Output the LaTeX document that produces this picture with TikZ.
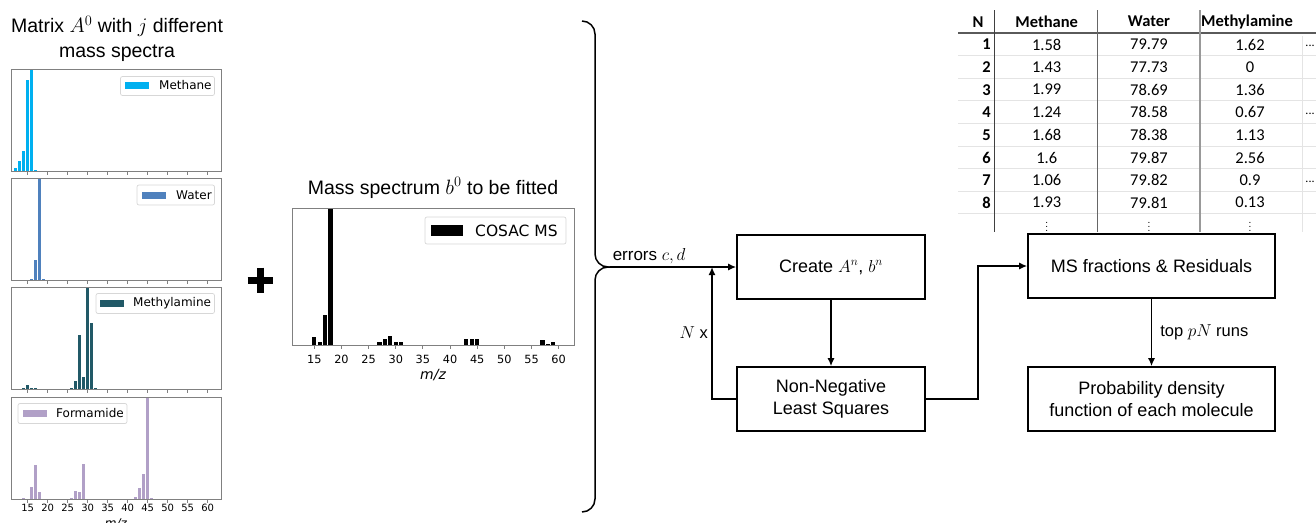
\documentclass[tikz,border=0pt]{standalone}
\usepackage{fontspec}
\setmainfont{Liberation Sans}
\newfontfamily\plotfont{DejaVu Sans}
\newfontfamily\tablefont{Carlito}
\usetikzlibrary{arrows.meta,positioning}

\definecolor{methanecol}{RGB}{0,176,240}
\definecolor{watercol}{RGB}{79,129,189}
\definecolor{aminecol}{RGB}{33,89,103}
\definecolor{formcol}{RGB}{177,160,199}
\definecolor{framegray}{RGB}{128,128,128}
\definecolor{legendgray}{RGB}{215,215,215}
\definecolor{rulegray}{RGB}{228,228,228}
\definecolor{headgray}{RGB}{90,90,90}

\tikzset{
  axisframe/.style={draw=framegray,line width=0.9pt},
  legendbox/.style={draw=legendgray,fill=white,rounded corners=2pt,line width=0.7pt},
  legendtext/.style={anchor=west,inner sep=0pt,font=\plotfont\fontsize{12}{14}\selectfont},
  ticklabel/.style={font=\plotfont\fontsize{10}{12}\selectfont},
  stepbox/.style={draw,line width=1.6pt,minimum width=188pt,minimum height=64pt,
    align=center,font=\fontsize{18}{22}\selectfont},
  link/.style={line width=1.5pt,-{Latex[length=8pt,width=7pt]}},
  cell/.style={font=\tablefont\fontsize{16.5}{19}\selectfont,inner sep=0pt},
}

% one small spectrum of the matrix A^0: top edge, colour, m/height pairs
\newcommand{\leftpanel}[3]{%
  \foreach \m/\h in {#3}
    \fill[#2] ({27.7+(\m-15)*4-1.6},{#1+102}) rectangle ++(3.2,{-\h*102});
  \draw[axisframe] (11,#1) rectangle (221,{#1+102});
  \foreach \t in {15,20,...,60}
    \draw[axisframe] ({27.7+(\t-15)*4},{#1+102}) -- ++(0,3.5);
}

\begin{document}
\begin{tikzpicture}[x=1pt,y=-1pt]
\useasboundingbox (0,0) rectangle (1316,522);

% reference spectra
\node[align=center,font=\fontsize{19.5}{25}\selectfont] (mattitle) at (117,39)
  {Matrix $A^0$ with $j$ different\\mass spectra};
\leftpanel{69}{methanecol}{12/0.03,13/0.1,14/0.2,15/0.89,16/1.0,17/0.01}
\leftpanel{178}{watercol}{16/0.01,17/0.2,18/1.0,19/0.01}
\leftpanel{287}{aminecol}{14/0.005,15/0.04,16/0.008,17/0.008,26/0.008,27/0.08,28/0.53,29/0.12,30/1.0,31/0.65,32/0.008}
\leftpanel{397}{formcol}{14/0.005,16/0.12,17/0.33,18/0.07,26/0.01,27/0.075,28/0.065,29/0.34,42/0.015,43/0.11,44/0.25,45/1.0,46/0.01}
\draw[legendbox] (120.5,76.5) rectangle (214.5,95.5);
\fill[methanecol] (125,82) rectangle (149,89);
\node[legendtext] (lgmethane) at (159,85.5) {Methane};
\draw[legendbox] (137,185) rectangle (214.5,205);
\fill[watercol] (142,191.5) rectangle (166,198.5);
\node[legendtext] (lgwater) at (176,195) {Water};
\draw[legendbox] (96,293.5) rectangle (214.5,313.5);
\fill[aminecol] (100,300) rectangle (124,307);
\node[legendtext] (lgamine) at (133,303.5) {Methylamine};
\draw[legendbox] (18,403.5) rectangle (127,423.5);
\fill[formcol] (23,410) rectangle (47,417);
\node[legendtext] (lgform) at (56,413.5) {Formamide};
\foreach \t in {15,20,...,60}
  \node[ticklabel] (lt\t) at ({27.7+(\t-15)*4},508) {\t};
\node[font=\plotfont\itshape\fontsize{12}{14}\selectfont] (lmz) at (116,524) {m/z};

% plus
\draw[line width=7pt] (247.5,280) -- (272.5,280) (260,267.5) -- (260,292.5);

% measured spectrum
\node[font=\fontsize{19.5}{23}\selectfont] (spectitle) at (433,188) {Mass spectrum $b^0$ to be fitted};
\foreach \m/\h in {13/0.005,14/0.005,15/0.06,16/0.025,17/0.225,18/1.0,19/0.005,21/0.005,23/0.005,
    26/0.005,27/0.027,28/0.046,29/0.07,30/0.025,31/0.03,33/0.005,34/0.005,38/0.005,39/0.005,
    41/0.005,43/0.046,44/0.046,45/0.046,49/0.005,57/0.04,58/0.01,59/0.027,61/0.005}
  \fill ({314.3+(\m-15)*5.43-2.15},345.7) rectangle ++(4.3,{-\h*137.4});
\draw[axisframe] (292.7,208.3) rectangle (574,345.7);
\foreach \t in {15,20,...,60}{
  \draw[axisframe] ({314.3+(\t-15)*5.43},345.7) -- ++(0,3.5);
  \node[ticklabel,font=\plotfont\fontsize{11.3}{13}\selectfont] (mt\t) at ({314.3+(\t-15)*5.43},359) {\t};
}
\node[font=\plotfont\itshape\fontsize{14}{16}\selectfont] (mmz) at (433,375) {m/z};
\draw[legendbox] (425,217) rectangle (566,244);
\fill (431,224.5) rectangle (463,235.5);
\node[legendtext,font=\plotfont\fontsize{15.5}{18}\selectfont] (lgcosac) at (475,230.5) {COSAC MS};

% brace
\coordinate (tip) at (610,267);
\draw[line width=1.5pt,rounded corners=13pt] (582,21) -| (595,267) -- (tip);
\draw[line width=1.5pt,rounded corners=13pt] (582,512) -| (595,267) -- (tip);

% flow chart
\node[stepbox] (create) at (831,267) {Create $A^n$, $b^n$};
\node[stepbox] (nnls) at (831,399) {Non-Negative\\Least Squares};
\node[stepbox,minimum width=247pt] (msfrac) at (1151.5,266) {MS fractions \& Residuals};
\node[stepbox,minimum width=247pt] (pdf) at (1151.5,399) {Probability density\\function of each molecule};
\coordinate (join) at (712,267);
\draw[link] (tip) -- (create.west)
  node[pos=0.0,above right,inner sep=2pt,font=\fontsize{17}{19}\selectfont] (errlab) {errors $c, d$};
\draw[link] (create) -- (nnls);
\draw[link] (nnls.west) -| (join)
  node[pos=0.75,left,font=\fontsize{16.5}{19}\selectfont] (nlab) {$N$ x};
\draw[link] (nnls.east) -- ++(52,0) |- (msfrac.west);
\draw[link] (msfrac) -- (pdf)
  node[midway,right,inner sep=8pt,font=\fontsize{16.5}{19}\selectfont] (toplab) {top $pN$ runs};

% table of fitted fractions
\foreach \k in {1,...,8}
  \draw[rulegray,line width=0.8pt] (958,{33+\k*22.6}) -- (1316,{33+\k*22.6});
\draw[headgray,line width=1.6pt] (958,32.7) -- (1316,32.7);
\draw[black!75,line width=1.4pt] (994.3,10) -- (994.3,232);
\draw[black!60,line width=1pt] (1097.7,10) -- (1097.7,232);
\draw[black!40,line width=1.6pt] (1200,10) -- (1200,232);
\draw[rulegray,line width=0.8pt] (1302,36) -- (1302,232);
\node[cell,font=\tablefont\bfseries\fontsize{16.5}{19}\selectfont] (hn) at (978,21.7) {N};
\node[cell,font=\tablefont\bfseries\fontsize{16.5}{19}\selectfont] (hmethane) at (1046.7,21.7) {Methane};
\node[cell,font=\tablefont\bfseries\fontsize{16.5}{19}\selectfont] (hwater) at (1149,21.7) {Water};
\node[cell,font=\tablefont\bfseries\fontsize{16.5}{19}\selectfont] (hamine) at (1247,21.7) {Methylamine};
\foreach \n/\a/\b/\c in {1/1.58/79.79/1.62,2/1.43/77.73/0,3/1.99/78.69/1.36,4/1.24/78.58/0.67,
    5/1.68/78.38/1.13,6/1.6/79.87/2.56,7/1.06/79.82/0.9,8/1.93/79.81/0.13}{
  \node[cell,anchor=east,font=\tablefont\bfseries\fontsize{16.5}{19}\selectfont] (rn\n) at (991,{44.5+(\n-1)*22.6}) {\n};
  \node[cell] (rme\n) at (1046.7,{44.5+(\n-1)*22.6}) {\a};
  \node[cell] (rwa\n) at (1149,{44.5+(\n-1)*22.6}) {\b};
  \node[cell] (ram\n) at (1250,{44.5+(\n-1)*22.6}) {\c};
}
\foreach \n in {1,4,7}
  \node[cell,font=\tablefont\fontsize{12}{14}\selectfont] (more\n) at (1310,{46+(\n-1)*22.6}) {...};
\foreach \x/\nm in {1046.7/me,1149/wa,1250/am}
  \node[cell,font=\fontsize{10}{11}\selectfont] (dots\nm) at (\x,224) {$\vdots$};
\end{tikzpicture}
\end{document}
